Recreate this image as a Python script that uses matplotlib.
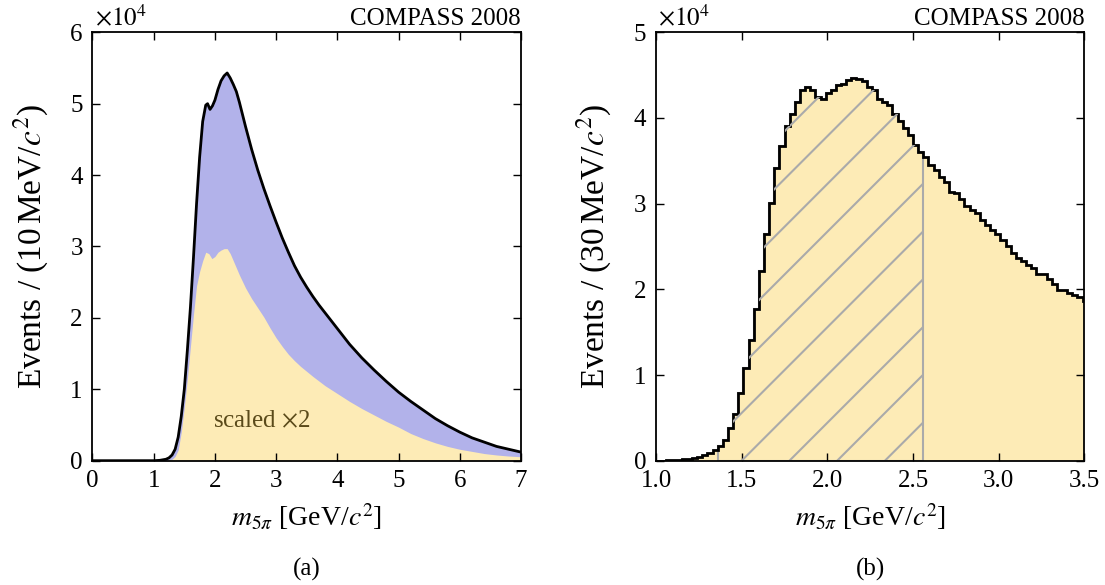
import numpy as np
import matplotlib
matplotlib.use('Agg')
import matplotlib.pyplot as plt
from matplotlib.patches import Polygon

plt.rcParams['font.family'] = ['Liberation Serif', 'DejaVu Serif']
plt.rcParams['mathtext.fontset'] = 'stix'

BLUE = '#b2b2ea'
YELLOW = '#fdebb6'
HATCH = '#aaaaaa'

# (a) total 5pi mass spectrum, 10 MeV bins (units of 1e4 events)
mass_a = [0.0, 1.0, 1.1, 1.2, 1.25, 1.3, 1.35, 1.4, 1.45, 1.5, 1.55, 1.6, 1.65,
          1.7, 1.75, 1.8, 1.85, 1.88, 1.92, 1.96, 2.0, 2.05, 2.1, 2.15, 2.2,
          2.25, 2.3, 2.35, 2.4, 2.45, 2.5, 2.6, 2.7, 2.8, 2.9, 3.0, 3.1, 3.2,
          3.3, 3.4, 3.5, 3.6, 3.7, 3.8, 3.9, 4.0, 4.2, 4.4, 4.6, 4.8, 5.0, 5.2,
          5.4, 5.6, 5.8, 6.0, 6.2, 6.4, 6.6, 6.8, 7.0]
total_a = [0.0, 0.0, 0.005, 0.02, 0.04, 0.08, 0.16, 0.33, 0.62, 1.0, 1.55, 2.15,
           2.85, 3.6, 4.25, 4.75, 4.98, 5.0, 4.92, 4.97, 5.05, 5.2, 5.32, 5.39,
           5.43, 5.36, 5.27, 5.17, 5.02, 4.85, 4.68, 4.36, 4.07, 3.81, 3.57,
           3.34, 3.12, 2.92, 2.73, 2.57, 2.43, 2.30, 2.18, 2.07, 1.96, 1.85,
           1.63, 1.44, 1.27, 1.11, 0.96, 0.83, 0.71, 0.59, 0.49, 0.40, 0.32,
           0.26, 0.20, 0.16, 0.12]

# selected subsample, drawn scaled by 2
mass_sel = [1.2, 1.3, 1.35, 1.4, 1.45, 1.5, 1.55, 1.6, 1.65, 1.7, 1.75, 1.8,
            1.85, 1.9, 1.95, 2.0, 2.05, 2.1, 2.15, 2.2, 2.25, 2.3, 2.4, 2.5,
            2.6, 2.7, 2.8, 2.9, 3.0, 3.1, 3.2, 3.3, 3.4, 3.5, 3.6, 3.8, 4.0,
            4.2, 4.4, 4.6, 4.8, 5.0, 5.2, 5.4, 5.6, 5.8, 6.0, 6.2, 6.4, 6.6,
            6.8, 7.0]
sel_x2 = [0.0, 0.02, 0.06, 0.15, 0.40, 0.75, 1.15, 1.6, 2.05, 2.45, 2.65, 2.80,
          2.92, 2.90, 2.83, 2.86, 2.92, 2.95, 2.97, 2.97, 2.90, 2.80, 2.60,
          2.42, 2.27, 2.14, 2.01, 1.86, 1.72, 1.60, 1.49, 1.40, 1.32, 1.25,
          1.18, 1.05, 0.94, 0.83, 0.73, 0.64, 0.55, 0.47, 0.38, 0.31, 0.25,
          0.20, 0.16, 0.13, 0.10, 0.08, 0.065, 0.055]

# (b) 30 MeV bins starting at 1.0 GeV
bin_lo = 1.0
bin_w = 0.03
counts_b = [0.001, 0.002, 0.004, 0.006, 0.010, 0.015, 0.022, 0.032, 0.047,
            0.063, 0.086, 0.125, 0.17, 0.24, 0.38, 0.545, 0.79, 1.08, 1.41,
            1.77, 2.21, 2.65, 3.01, 3.42, 3.67, 3.905, 4.05, 4.19, 4.33, 4.365,
            4.33, 4.24, 4.225, 4.29, 4.325, 4.38, 4.40, 4.44, 4.47, 4.46, 4.43,
            4.36, 4.325, 4.225, 4.185, 4.15, 4.05, 3.97, 3.885, 3.80, 3.68,
            3.60, 3.55, 3.45, 3.39, 3.31, 3.25, 3.135, 3.12, 3.05, 2.97, 2.93,
            2.89, 2.81, 2.75, 2.69, 2.65, 2.58, 2.50, 2.42, 2.37, 2.33, 2.28,
            2.25, 2.18, 2.18, 2.12, 2.06, 1.99, 1.99, 1.96, 1.93, 1.91, 1.86]
mass_window = (1.36, 2.56)

edges_b = bin_lo + bin_w * np.arange(len(counts_b) + 1)
counts_b = np.array(counts_b)

fig = plt.figure(figsize=(11.05, 5.85), dpi=100)
ax1 = fig.add_axes([0.0837, 0.2125, 0.3878, 0.7323])
ax2 = fig.add_axes([0.5937, 0.2125, 0.3876, 0.7323])

# ---- panel (a)
ax1.fill_between(mass_a, total_a, color=BLUE, lw=0)
ax1.fill_between(mass_sel, sel_x2, color=YELLOW, lw=0)
ax1.plot(mass_a, total_a, color='k', lw=2, solid_joinstyle='round')
ax1.text(1.97, 0.55, r'scaled $\times$2', fontsize=18, color='#5a4a1a',
         va='center')
ax1.set_xlim(0, 7)
ax1.set_ylim(0, 6)
ax1.set_xticks(range(0, 8))
ax1.set_yticks(range(0, 7))
ax1.set_ylabel(r'Events / (10$\,$MeV/$c^2$)', fontsize=24, labelpad=14)

# ---- panel (b)
ax2.stairs(counts_b, edges_b, fill=True, color=YELLOW, lw=0)

# hatched mass window, clipped to the histogram
i0 = int(round((mass_window[0] - bin_lo) / bin_w))
i1 = int(round((mass_window[1] - bin_lo) / bin_w))
verts = [(edges_b[i0], 0)]
for i in range(i0, i1):
    verts.append((edges_b[i], counts_b[i]))
    verts.append((edges_b[i + 1], counts_b[i]))
verts.append((edges_b[i1], 0))
win = Polygon(verts, closed=True, facecolor='none', edgecolor=HATCH, lw=1.5)
ax2.add_patch(win)
step = 0.1115
for off in np.arange(0.2 - 10 * step, 1.0, step):
    ln, = ax2.plot([off, off + 1], [0, 1], color=HATCH, lw=1.5,
                   transform=ax2.transAxes)
    ln.set_clip_path(win)

ax2.stairs(counts_b, edges_b, baseline=None, color='k', lw=2)
ax2.set_xlim(1.0, 3.5)
ax2.set_ylim(0, 5)
ax2.set_xticks(np.arange(1.0, 3.51, 0.5))
ax2.set_xticklabels(['%.1f' % v for v in np.arange(1.0, 3.51, 0.5)])
ax2.set_yticks(range(0, 6))
ax2.set_ylabel(r'Events / (30$\,$MeV/$c^2$)', fontsize=24, labelpad=14)

for ax, tag in ((ax1, '(a)'), (ax2, '(b)')):
    ax.tick_params(direction='in', length=6, width=1, top=True, right=True,
                   labelsize=18, pad=7)
    for s in ax.spines.values():
        s.set_linewidth(1.3)
    ax.set_xlabel(r'$m_{5\pi}$ [GeV/$c^2$]', fontsize=20, labelpad=6)
    ax.text(0.005, 1.005, r'$\times10^4$', transform=ax.transAxes,
            fontsize=18, ha='left', va='bottom')
    ax.text(1.0, 1.005, 'COMPASS 2008', transform=ax.transAxes,
            fontsize=18, ha='right', va='bottom')
    ax.text(0.5, -0.255, tag, transform=ax.transAxes, fontsize=18,
            ha='center', va='center')

fig.savefig('out.png', dpi=100)
